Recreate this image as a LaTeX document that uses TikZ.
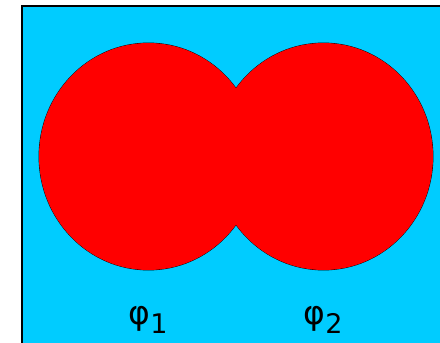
\documentclass[tikz,border=0pt]{standalone}
\usepackage{fontspec}
\usepackage{tikz}
\newfontfamily\labelfont{DejaVu Sans}
\definecolor{sky}{HTML}{00CCFF}
\tikzset{
 lobe fill/.style={fill=red},
 lobe outline/.style={draw=black,line width=0.8pt},
 frame box/.style={fill=sky,draw=black,line width=2pt},
 phase label/.style={font=\labelfont\fontsize{33}{33}\selectfont,
                     anchor=base,inner sep=0pt}
}
\newcommand{\phasesub}[1]{\raisebox{-9pt}{\fontsize{27}{27}\selectfont #1}}

\begin{document}
\begin{tikzpicture}[x=1pt,y=-1pt]
 \useasboundingbox (0,0) rectangle (440,343);
 \begin{scope}
  \clip (0,0) rectangle (440,343);
  \draw[frame box] (22,6) rectangle (470,370);
 \end{scope}

 \coordinate (c1) at (148.5,156.5);
 \coordinate (c2) at (323.5,156.5);

 \foreach \c in {c1,c2} \draw[lobe outline] (\c) ellipse [x radius=109.5,y radius=113.5];
 \foreach \c in {c1,c2} \fill[lobe fill] (\c) ellipse [x radius=109.5,y radius=113.5];

 \node[phase label] (phi1) at (148,324) {φ\phasesub{1}};
 \node[phase label] (phi2) at (323,324) {φ\phasesub{2}};
\end{tikzpicture}
\end{document}
